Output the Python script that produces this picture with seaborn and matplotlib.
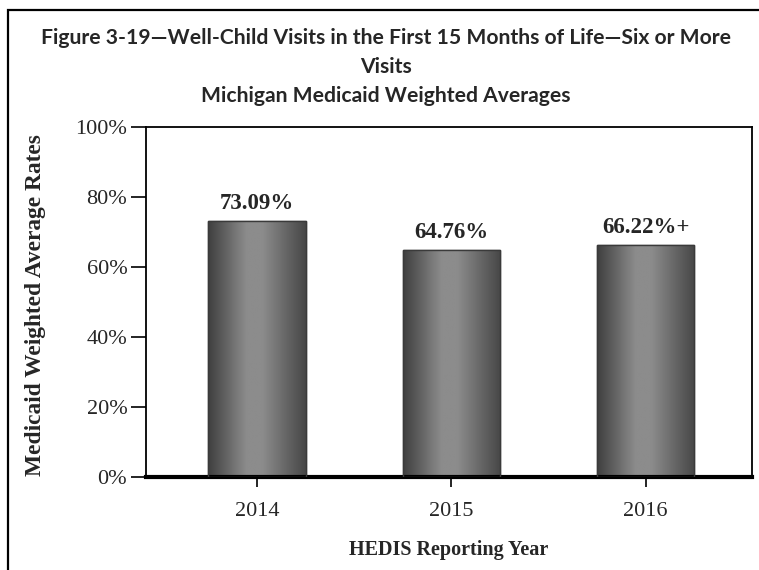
import numpy as np
import pandas as pd
import matplotlib
matplotlib.use("Agg")
import matplotlib.pyplot as plt
import seaborn as sns
from matplotlib.patches import Rectangle
from matplotlib.ticker import PercentFormatter

years = ["2014", "2015", "2016"]
rates = [73.09, 64.76, 66.22]
labels = ["73.09%", "64.76%", "66.22%+"]

df = pd.DataFrame({"year": years, "rate": rates})

sns.set_style("white")
plt.rcParams["font.family"] = ["Liberation Serif", "DejaVu Serif"]

fig = plt.figure(figsize=(7.59, 5.70), dpi=100)
ax = fig.add_axes([146 / 759, 1 - 477 / 570, (752 - 146) / 759, (477 - 127) / 570])

sns.barplot(data=df, x="year", y="rate", color="#777777", width=0.5,
            edgecolor="#3a3a3a", linewidth=1.0, ax=ax, zorder=2)

# cylinder-like shading, dark edges and light middle
grad = np.concatenate([np.linspace(0.25, 0.55, 40), np.linspace(0.55, 0.55, 15),
                       np.linspace(0.55, 0.28, 45)])
grad = grad[np.newaxis, :]
for p in ax.patches:
    x0, y0 = p.get_x(), p.get_y()
    w, h = p.get_width(), p.get_height()
    im = ax.imshow(grad, cmap="gray", vmin=0, vmax=1, aspect="auto",
                   extent=[x0, x0 + w, y0, y0 + h], zorder=2.5, interpolation="bicubic")
    im.set_clip_path(p)
    edge = Rectangle((x0, y0), w, h, fill=False, edgecolor="#3a3a3a", lw=1.0, zorder=3)
    ax.add_patch(edge)

for i, (v, lab) in enumerate(zip(rates, labels)):
    ax.annotate(lab, (i, v), xytext=(0, 5), textcoords="offset points",
                ha="center", va="bottom", fontsize=16.5, fontweight="bold")

ax.set_xlim(-0.571, 2.548)
ax.set_ylim(0, 100)
ax.set_yticks([0, 20, 40, 60, 80, 100])
ax.yaxis.set_major_formatter(PercentFormatter(decimals=0))
ax.tick_params(axis="both", which="both", direction="out", width=1.2,
               labelsize=16, color="black", left=True, bottom=True)
ax.tick_params(axis="x", length=7, pad=11)
ax.tick_params(axis="y", length=10.5, pad=3)
for s in ["top", "right", "left"]:
    ax.spines[s].set_linewidth(1.3)
    ax.spines[s].set_color("black")
ax.spines["bottom"].set_linewidth(3)
ax.spines["bottom"].set_color("black")

ax.set_xlabel("HEDIS Reporting Year", fontsize=14.5, fontweight="bold", va="center")
ax.xaxis.set_label_coords(0.5, (477 - 550) / 350)
ax.set_ylabel("Medicaid Weighted Average Rates", fontsize=16.8, fontweight="bold", va="center")
ax.yaxis.set_label_coords((36 - 146) / 606, 0.49)

title_font = ["Lato", "DejaVu Sans"]
fig.text(386 / 759, 1 - 38 / 570,
         "Figure 3-19\u2014Well-Child Visits in the First 15 Months of Life\u2014Six or More",
         ha="center", va="center", fontsize=15.2, fontweight="bold", family=title_font)
fig.text(386 / 759, 1 - 67 / 570, "Visits", ha="center", va="center",
         fontsize=15.2, fontweight="bold", family=title_font)
fig.text(386 / 759, 1 - 96 / 570, "Michigan Medicaid Weighted Averages", ha="center",
         va="center", fontsize=15.2, fontweight="bold", family=title_font)

# outer frame of the figure box
fig.patches.append(Rectangle((8 / 759, -0.1), 1.1, 1 - 10 / 570 + 0.1, transform=fig.transFigure,
                             fill=False, edgecolor="black", lw=1.6))

fig.savefig("out.png", dpi=100)
